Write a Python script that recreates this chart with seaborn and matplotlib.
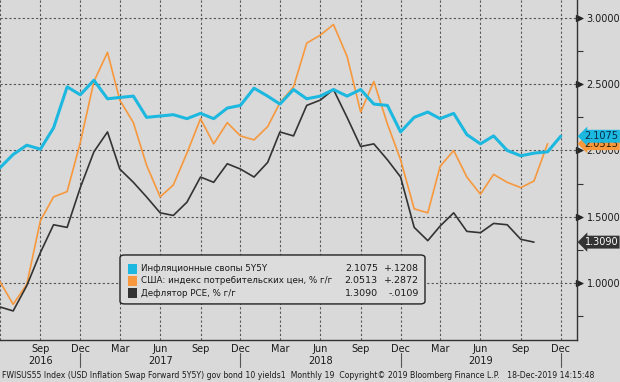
import pandas as pd
import numpy as np
import matplotlib
matplotlib.use("Agg")
import matplotlib.pyplot as plt
import matplotlib.dates as mdates
import matplotlib.transforms as mtransforms
from matplotlib.patches import FancyBboxPatch
import seaborn as sns

# monthly observations, Jun 2016 .. Dec 2019
months = pd.date_range("2016-06-01", "2019-12-01", freq="MS")

swaps_5y5y = [1.87, 1.97, 2.04, 2.01, 2.17, 2.48, 2.42,
              2.53, 2.39, 2.40, 2.41, 2.25, 2.26, 2.27, 2.24, 2.28, 2.24, 2.32, 2.34,
              2.47, 2.41, 2.35, 2.46, 2.39, 2.41, 2.46, 2.41, 2.46, 2.35, 2.34, 2.14,
              2.25, 2.29, 2.24, 2.28, 2.12, 2.05, 2.11, 2.00, 1.96, 1.98, 1.99, 2.1075]
cpi_yoy = [1.01, 0.84, 0.99, 1.47, 1.65, 1.69, 2.06,
           2.52, 2.74, 2.38, 2.21, 1.89, 1.65, 1.74, 1.98, 2.24, 2.05, 2.21, 2.11,
           2.08, 2.18, 2.36, 2.48, 2.81, 2.87, 2.95, 2.71, 2.29, 2.52, 2.20, 1.93,
           1.56, 1.53, 1.88, 2.00, 1.80, 1.67, 1.82, 1.76, 1.72, 1.77, 2.0513, np.nan]
pce_yoy = [0.82, 0.79, 0.98, 1.23, 1.44, 1.42, 1.72,
           1.99, 2.14, 1.86, 1.76, 1.65, 1.53, 1.51, 1.61, 1.80, 1.76, 1.90, 1.86,
           1.80, 1.91, 2.14, 2.11, 2.34, 2.38, 2.46, 2.25, 2.03, 2.05, 1.93, 1.80,
           1.42, 1.32, 1.43, 1.53, 1.39, 1.38, 1.45, 1.44, 1.33, 1.309, np.nan, np.nan]

series_names = ["Инфляционные свопы 5Y5Y",
                "США: индекс потребительских цен, % г/г",
                "Дефлятор PCE, % г/г"]
last_values = ["2.1075", "2.0513", "1.3090"]
changes = ["+.1208", "+.2872", "-.0109"]
colors = ["#1cb8e0", "#f7983c", "#333333"]
widths = [2.2, 1.2, 1.2]

year_labels = ["2016", "2017", "2018", "2019"]
year_label_dates = ["2016-09-01", "2017-06-01", "2018-06-01", "2019-06-01"]
year_break_dates = ["2016-12-01", "2017-12-01", "2018-12-01", "2019-12-01"]
footer = ("FWISUS55 Index (USD Inflation Swap Forward 5Y5Y) gov bond 10 yields1  "
          "Monthly 19  Copyright\u00a9 2019 Bloomberg Finance L.P.   18-Dec-2019 14:15:48")

bg = "#d9d9d9"
sns.set_style("white")
plt.rcParams["font.family"] = ["DejaVu Sans"]

df = pd.DataFrame({"date": months, "swap": swaps_5y5y, "cpi": cpi_yoy, "pce": pce_yoy})

fig = plt.figure(figsize=(6.2, 3.82), dpi=100, facecolor=bg)
ax = fig.add_axes([0, 0.11, 0.9306, 0.89])
ax.set_facecolor(bg)

for col, c, lw in zip(["cpi", "pce", "swap"], [colors[1], colors[2], colors[0]],
                      [widths[1], widths[2], widths[0]]):
    sns.lineplot(data=df, x="date", y=col, ax=ax, color=c, linewidth=lw)

ax.set_xlim(pd.Timestamp("2016-06-01"), pd.Timestamp("2020-01-07"))
ax.set_ylim(0.571, 3.135)
ax.set_xlabel("")
ax.set_ylabel("")

# axes styling
for s in ["left", "top"]:
    ax.spines[s].set_visible(False)
for s in ["right", "bottom"]:
    ax.spines[s].set_color("#333333")
    ax.spines[s].set_linewidth(1.0)

ax.xaxis.set_major_locator(mdates.MonthLocator(bymonth=[3, 6, 9, 12]))
ax.xaxis.set_major_formatter(mdates.DateFormatter("%b"))
ax.xaxis.set_minor_locator(mdates.MonthLocator())
ax.tick_params(axis="x", which="both", direction="inout", length=4, width=0.8,
               color="#333333", labelsize=7, pad=1, labelcolor="#1a1a1a")

ax.yaxis.tick_right()
ax.set_yticks([1.0, 1.5, 2.0, 2.5, 3.0])
ax.set_yticks([0.75, 1.25, 1.75, 2.25, 2.75], minor=True)
ax.yaxis.set_major_formatter(matplotlib.ticker.FormatStrFormatter("%.4f"))
ax.tick_params(axis="y", which="both", direction="out", length=4, width=0.8,
               color="#333333", labelsize=7, pad=3, labelcolor="#1a1a1a")

ax.grid(True, which="major", color="#555555", linestyle=(0, (2, 2)), linewidth=0.8)

fig.canvas.draw()
# the first quarter tick (Jun 2016) sits on the edge and carries no label
for lbl in ax.get_xticklabels():
    if lbl.get_position()[0] <= mdates.date2num(pd.Timestamp("2016-06-01")):
        lbl.set_visible(False)

ytrans = mtransforms.blended_transform_factory(ax.transAxes, ax.transData)
xtrans = mtransforms.blended_transform_factory(ax.transData, ax.transAxes)

# triangle markers on the right axis
for v in [1.0, 1.5, 2.0, 2.5, 3.0]:
    ax.plot([1.004], [v], marker=">", markersize=4, color="#222222",
            transform=ytrans, clip_on=False)

# year labels and year separators
for lab, d in zip(year_labels, year_label_dates):
    ax.text(pd.Timestamp(d), -0.062, lab, transform=xtrans, ha="center", va="center",
            fontsize=7, color="#1a1a1a")
for d in year_break_dates:
    ax.plot([pd.Timestamp(d)] * 2, [-0.038, -0.079], color="#555555", linewidth=0.8,
            transform=xtrans, clip_on=False)

# last value tags on the right
tag_text_colors = ["#0b2a4a", "#2a1a00", "white"]
for i in [1, 0, 2]:
    ax.text(1.013, float(last_values[i]), last_values[i], transform=ytrans,
            ha="left", va="center", fontsize=7, color=tag_text_colors[i], zorder=5 + (i == 0),
            bbox=dict(boxstyle="larrow,pad=0.15", facecolor=colors[i], edgecolor="none"))

# legend box
box = FancyBboxPatch((0.208, 0.106), 0.5286, 0.144, boxstyle="round,pad=0,rounding_size=0.008",
                     transform=ax.transAxes, facecolor="#dcdcdc", edgecolor="#222222",
                     linewidth=1.0, zorder=6)
ax.add_patch(box)
row_y = [0.209, 0.174, 0.138]
for i in range(3):
    ax.add_patch(FancyBboxPatch((0.221, row_y[i] - 0.014), 0.016, 0.028, boxstyle="square,pad=0",
                                transform=ax.transAxes, facecolor=colors[i],
                                edgecolor="none", zorder=7))
    ax.text(0.245, row_y[i], series_names[i], transform=ax.transAxes, ha="left", va="center",
            fontsize=6.35, color="#1a1a1a", zorder=7)
    ax.text(0.655, row_y[i], last_values[i], transform=ax.transAxes, ha="right", va="center",
            fontsize=6.8, color="#1a1a1a", zorder=7)
    ax.text(0.726, row_y[i], changes[i], transform=ax.transAxes, ha="right", va="center",
            fontsize=6.8, color="#1a1a1a", zorder=7)

fig.text(0.003, 0.004, footer, fontsize=5.6, color="#1a1a1a", ha="left", va="bottom")

fig.savefig("out.png", dpi=100, facecolor=bg)
